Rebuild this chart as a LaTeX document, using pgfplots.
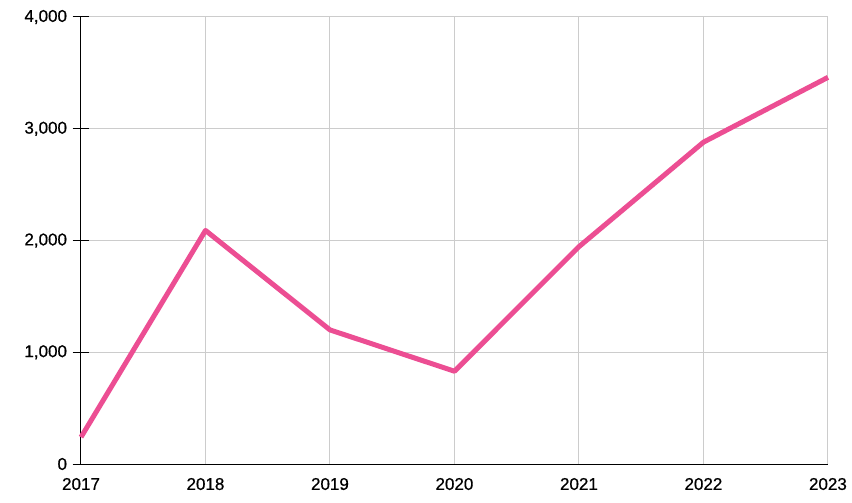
\documentclass[border=0pt]{standalone}
\usepackage{fontspec}
\setmainfont{Liberation Sans}[FakeBold=0.6]
\usepackage{pgfplots}
\pgfplotsset{compat=1.18}
\definecolor{linepink}{HTML}{EC4E93}
\definecolor{gridgray}{HTML}{CCCCCC}
\begin{document}
\begin{tikzpicture}
\begin{axis}[
  at={(0,0)}, anchor=south west,
  scale only axis,
  width=747bp, height=447bp,
  xmin=2017, xmax=2023, ymin=0, ymax=4000,
  axis x line*=bottom, axis y line*=left,
  axis line style={black, line width=1bp},
  xtick={2017,...,2023},
  ytick={0,1000,2000,3000,4000},
  xticklabel style={/pgf/number format/1000 sep={}},
  yticklabel style={/pgf/number format/1000 sep={,}},
  /pgf/number format/assume math mode=true,
  ticklabel style={font=\fontsize{17bp}{20bp}\selectfont, text=black},
  xmajorgrids, ymajorgrids,
  grid style={gridgray, line width=1bp},
  major tick length=17bp,
  x tick style={draw=none},
  y tick style={black, line width=1bp},
  tick align=center,
  yticklabel shift=2bp,
  xticklabel shift=2bp,
  clip=false,
]
\addplot[linepink, line width=5bp, line join=round] coordinates {
  (2017,240) (2018,2090) (2019,1200) (2020,830) (2021,1945) (2022,2880) (2023,3460)
};
\end{axis}
\path[use as bounding box] (-81bp,-39bp) rectangle (771bp,464bp);
\end{tikzpicture}
\end{document}
